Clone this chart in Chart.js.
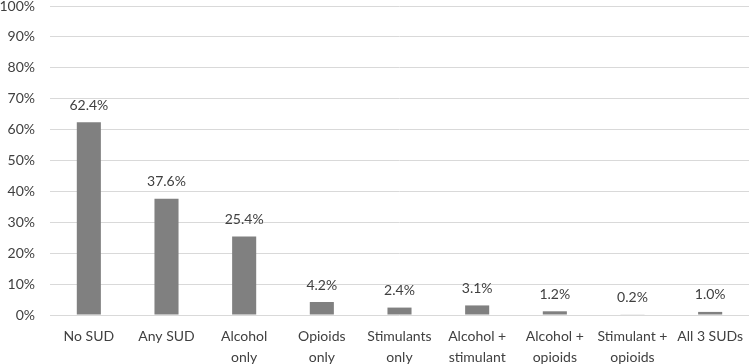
<!DOCTYPE html>
<html><head><meta charset="utf-8">
<script src="https://cdn.jsdelivr.net/npm/chart.js@4.4.0/dist/chart.umd.min.js"></script>
<style>html,body{margin:0;padding:0;background:#fff}#wrap{width:749px;height:364px}</style>
</head><body><div id="wrap"><canvas id="c" width="749" height="364"></canvas></div>
<script>
const categories = [["No SUD"],["Any SUD"],["Alcohol","only"],["Opioids","only"],["Stimulants","only"],["Alcohol +","stimulant"],["Alcohol +","opioids"],["Stimulant +","opioids"],["All 3 SUDs"]];
const values = [62.4, 37.6, 25.4, 4.2, 2.4, 3.1, 1.2, 0.2, 1.0];
const valueLabels = ["62.4%","37.6%","25.4%","4.2%","2.4%","3.1%","1.2%","0.2%","1.0%"];
const FONT = "Lato, 'Open Sans', sans-serif";
const labelPlugin = {
  id:'vlabels',
  afterDatasetsDraw(chart){
    const ctx = chart.ctx; const meta = chart.getDatasetMeta(0);
    ctx.save(); ctx.font = "14px " + FONT; ctx.fillStyle = "#404040";
    ctx.textAlign = "center"; ctx.textBaseline = "bottom";
    meta.data.forEach((bar,i)=>{ ctx.fillText(valueLabels[i], bar.x, bar.y - 10); });
    ctx.restore();
  }
};
new Chart(document.getElementById('c'), {
  type:'bar',
  data:{labels:categories, datasets:[{data:values, backgroundColor:'#808080', categoryPercentage:1, barPercentage:0.31}]},
  options:{
    responsive:false, animation:false,
    layout:{padding:{top:6,right:0,left:0,bottom:0}},
    plugins:{legend:{display:false}, tooltip:{enabled:false}},
    scales:{
      x:{grid:{display:false}, border:{display:false},
         ticks:{color:'#404040', font:{family:FONT,size:14,lineHeight:1.5}, maxRotation:0, autoSkip:false, padding:3},
         afterFit(s){ s.height = 49; s.paddingLeft = 0; s.paddingRight = 0; }},
      y:{min:0,max:100, grid:{color:'#d9d9d9', lineWidth:1, drawTicks:false}, border:{display:false},
         ticks:{stepSize:10, color:'#404040', font:{family:FONT,size:14}, padding:15, callback:v=>v+'%'},
         afterFit(s){ s.width = 50; s.paddingTop = 0; s.paddingBottom = 0; }}
    }
  },
  plugins:[labelPlugin]
});
</script></body></html>
